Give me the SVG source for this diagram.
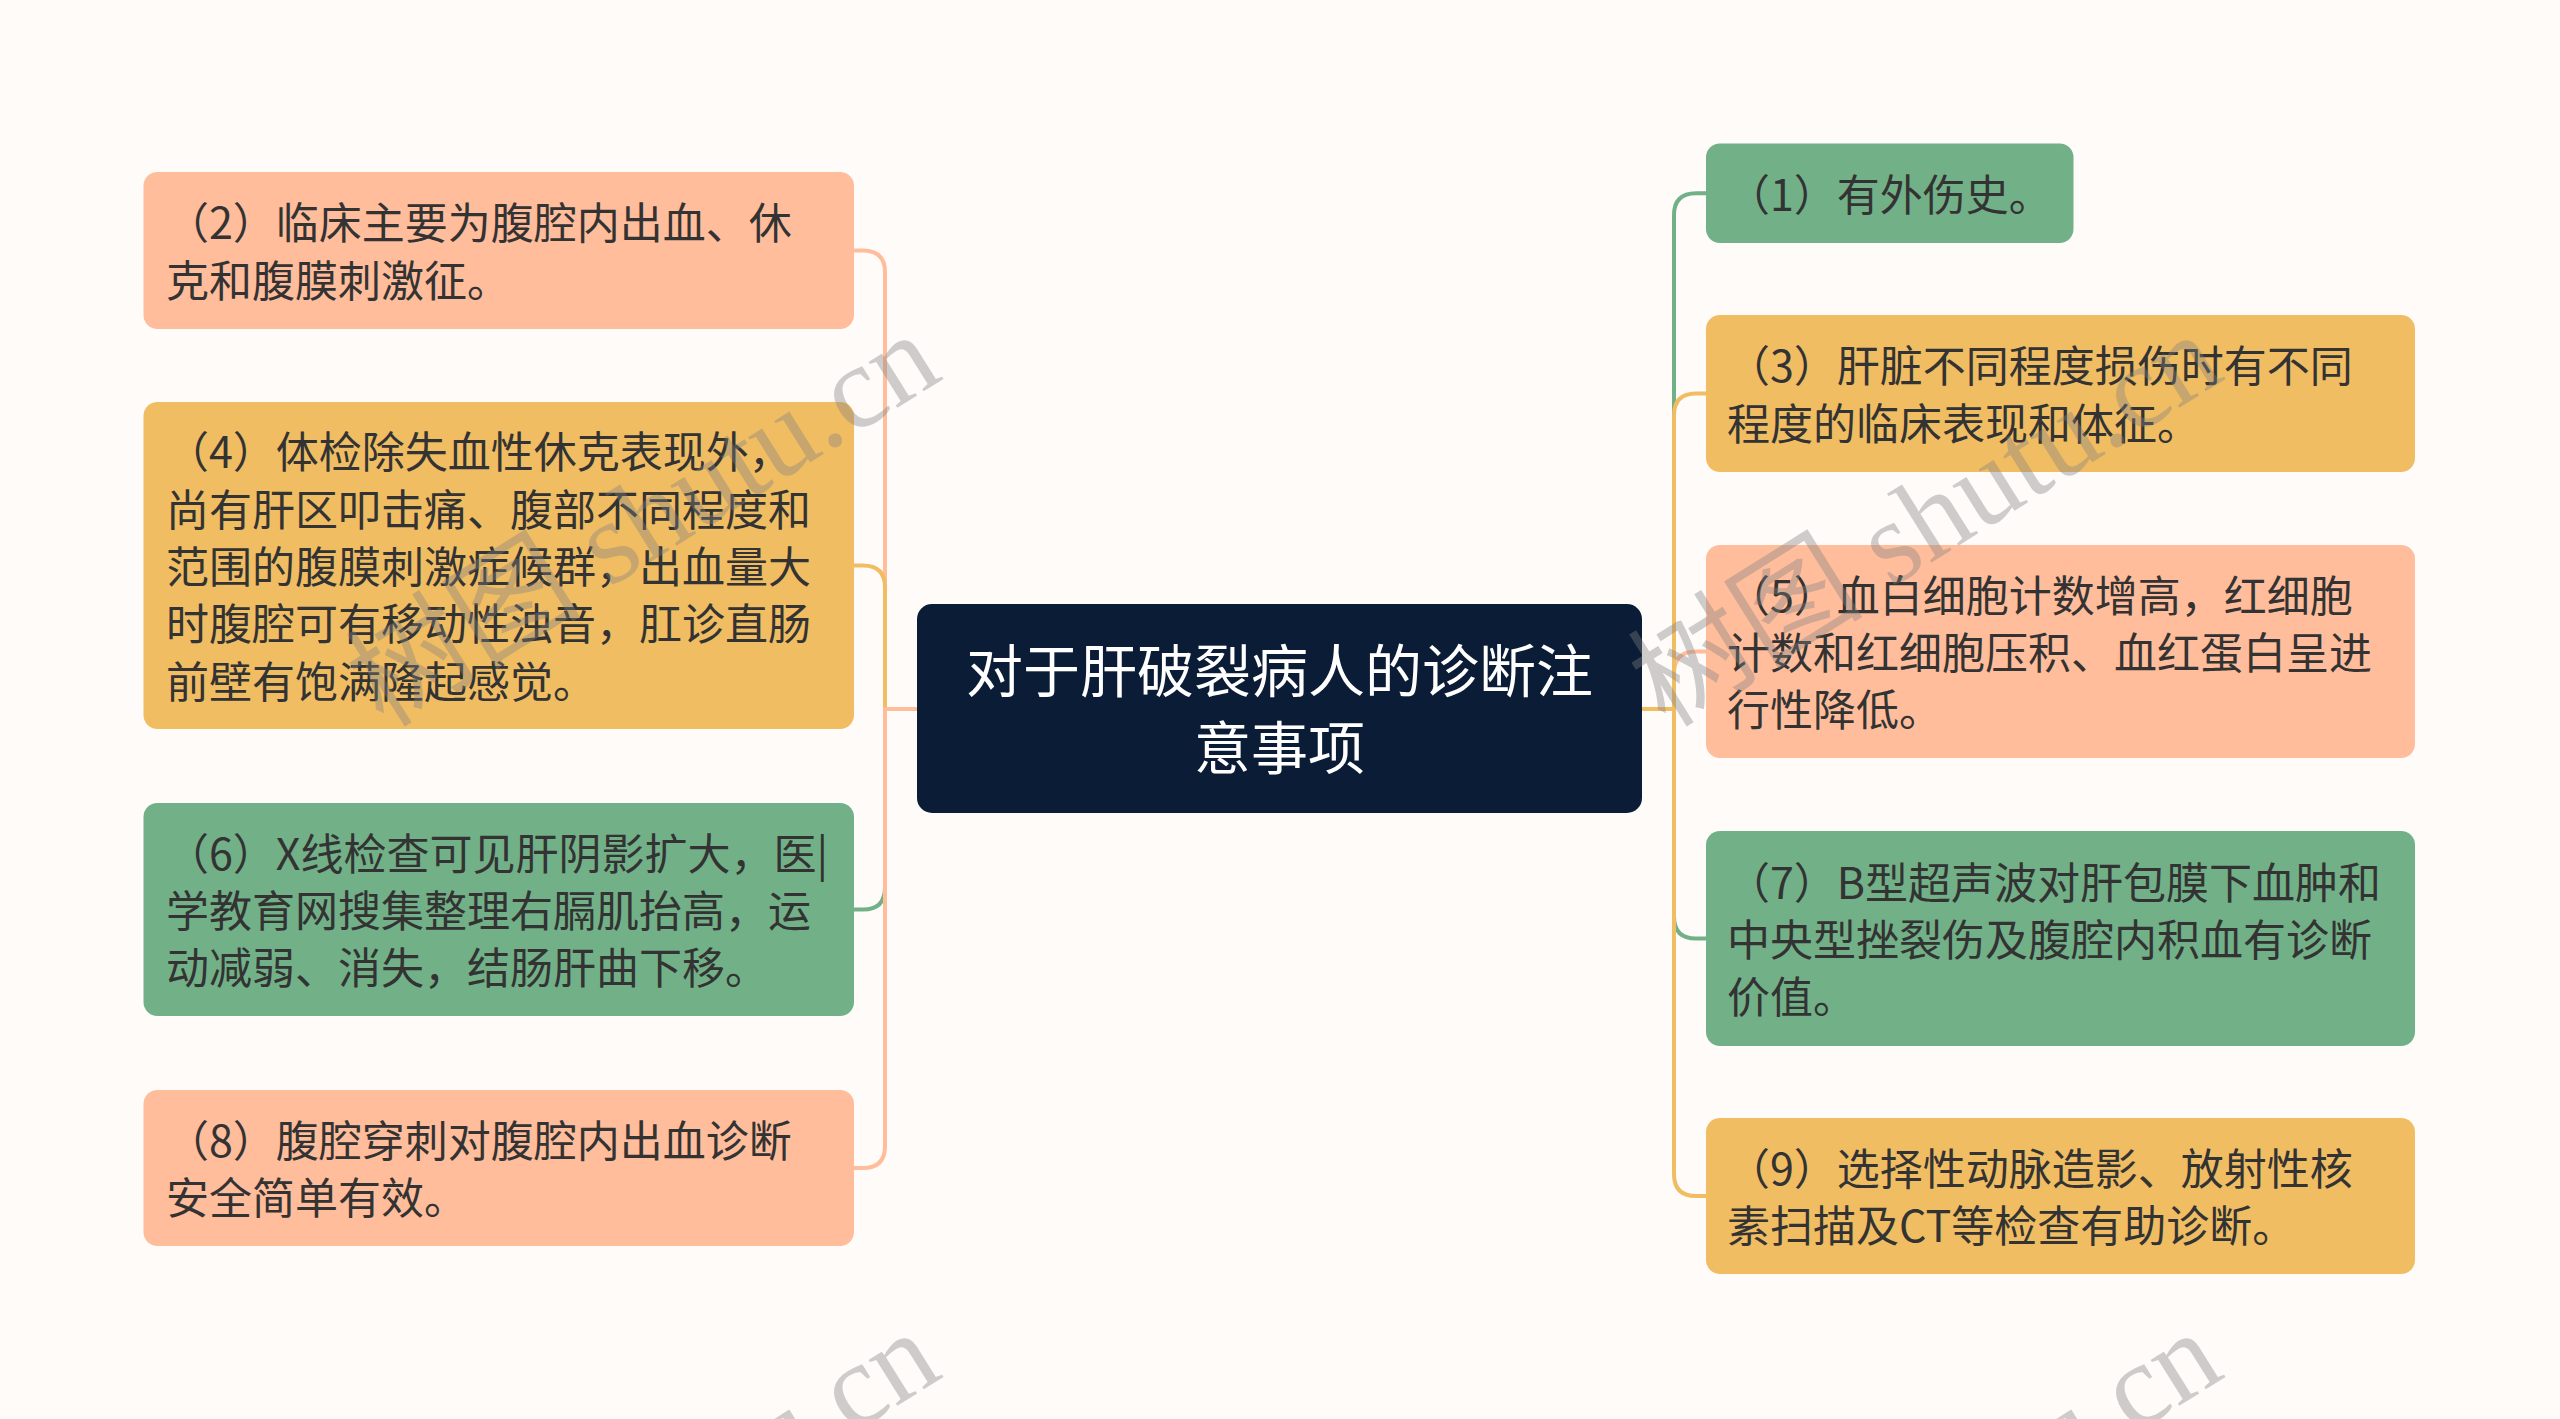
<svg xmlns="http://www.w3.org/2000/svg" width="2560" height="1419" viewBox="0 0 2560 1419">
<style>
.t{font-family:"Noto Sans CJK SC","Noto Sans",sans-serif;font-size:43px;fill:#333333}
.c{font-family:"Noto Sans CJK SC","Noto Sans",sans-serif;font-size:57px;fill:#ffffff;text-anchor:middle}
.peach{fill:#FFBD9B}
.yellow{fill:#F0BD63}
.green{fill:#72B088}
.lp{fill:none;stroke:#FFBD9B;stroke-width:4}
.ly{fill:none;stroke:#F0BD63;stroke-width:4}
.lg{fill:none;stroke:#72B088;stroke-width:4}
.wm{font-family:"Liberation Serif","Noto Sans CJK SC",serif;font-size:118px;fill:#808080;fill-opacity:0.38;text-anchor:end}
</style>
<rect width="2560" height="1419" fill="#FEFBF9"/>
<g id="connectors">
<path class="lp" d="M917,709 H885 V272.5 Q885,250.5 863,250.5 H854"/>
<path class="lg" d="M917,709 H885 V887.5 Q885,909.5 863,909.5 H854"/>
<path class="ly" d="M917,709 H885 V587.5 Q885,565.5 863,565.5 H854"/>
<path class="lp" d="M917,709 H885 V1146 Q885,1168 863,1168 H854"/>
<path class="lg" d="M1642,709 H1674 V215.3 Q1674,193.3 1696,193.3 H1706"/>
<path class="lp" d="M1642,709 H1674 V673.5 Q1674,651.5 1696,651.5 H1706"/>
<path class="lg" d="M1642,709 H1674 V916.5 Q1674,938.5 1696,938.5 H1706"/>
<path class="ly" d="M1642,709 H1674 V415.5 Q1674,393.5 1696,393.5 H1706"/>
<path class="ly" d="M1642,709 H1674 V1174 Q1674,1196 1696,1196 H1706"/>
</g>
<g id="center">
<rect x="917" y="604" width="725" height="209" rx="15" fill="#0B1C36"/>
<text class="c" x="1279.5" y="692">对于肝破裂病人的诊断注</text>
<text class="c" x="1279.5" y="768.5">意事项</text>
</g>
<g id="n2">
<rect class="peach" x="143.5" y="172" width="710.5" height="157" rx="14"/>
<text class="t" x="166" y="239.2">（2）临床主要为腹腔内出血、休</text>
<text class="t" x="166" y="296.5">克和腹膜刺激征。</text>
</g>
<g id="n4">
<rect class="yellow" x="143.5" y="402" width="710.5" height="327" rx="14"/>
<text class="t" x="166" y="468.3">（4）体检除失血性休克表现外，</text>
<text class="t" x="166" y="525.6">尚有肝区叩击痛、腹部不同程度和</text>
<text class="t" x="166" y="582.9">范围的腹膜刺激症候群，出血量大</text>
<text class="t" x="166" y="640.2">时腹腔可有移动性浊音，肛诊直肠</text>
<text class="t" x="166" y="697.5">前壁有饱满隆起感觉。</text>
</g>
<g id="n6">
<rect class="green" x="143.5" y="803" width="710.5" height="213" rx="14"/>
<text class="t" x="166" y="869.5">（6）X线检查可见肝阴影扩大，医|</text>
<text class="t" x="166" y="926.8">学教育网搜集整理右膈肌抬高，运</text>
<text class="t" x="166" y="984.1">动减弱、消失，结肠肝曲下移。</text>
</g>
<g id="n8">
<rect class="peach" x="143.5" y="1090" width="710.5" height="156" rx="14"/>
<text class="t" x="166" y="1156.7">（8）腹腔穿刺对腹腔内出血诊断</text>
<text class="t" x="166" y="1214">安全简单有效。</text>
</g>
<g id="n1">
<rect class="green" x="1706" y="143.5" width="367.5" height="99.5" rx="14"/>
<text class="t" x="1727" y="210.6">（1）有外伤史。</text>
</g>
<g id="n3">
<rect class="yellow" x="1706" y="315" width="709" height="157" rx="14"/>
<text class="t" x="1727" y="382.2">（3）肝脏不同程度损伤时有不同</text>
<text class="t" x="1727" y="439.5">程度的临床表现和体征。</text>
</g>
<g id="n5">
<rect class="peach" x="1706" y="545" width="709" height="213" rx="14"/>
<text class="t" x="1727" y="611.5">（5）血白细胞计数增高，红细胞</text>
<text class="t" x="1727" y="668.8">计数和红细胞压积、血红蛋白呈进</text>
<text class="t" x="1727" y="726.1">行性降低。</text>
</g>
<g id="n7">
<rect class="green" x="1706" y="831" width="709" height="215" rx="14"/>
<text class="t" x="1727" y="898.5">（7）B型超声波对肝包膜下血肿和</text>
<text class="t" x="1727" y="955.8">中央型挫裂伤及腹腔内积血有诊断</text>
<text class="t" x="1727" y="1013.1">价值。</text>
</g>
<g id="n9">
<rect class="yellow" x="1706" y="1118" width="709" height="156" rx="14"/>
<text class="t" x="1727" y="1184.7">（9）选择性动脉造影、放射性核</text>
<text class="t" x="1727" y="1242">素扫描及CT等检查有助诊断。</text>
</g>
<g id="watermarks">
<text class="wm" x="945" y="378" transform="rotate(-32 945 378)">树图 shutu.cn</text>
<text class="wm" x="2227" y="378" transform="rotate(-32 2227 378)">树图 shutu.cn</text>
<text class="wm" x="945" y="1376" transform="rotate(-32 945 1376)">树图 shutu.cn</text>
<text class="wm" x="2227" y="1376" transform="rotate(-32 2227 1376)">树图 shutu.cn</text>
</g>
</svg>
